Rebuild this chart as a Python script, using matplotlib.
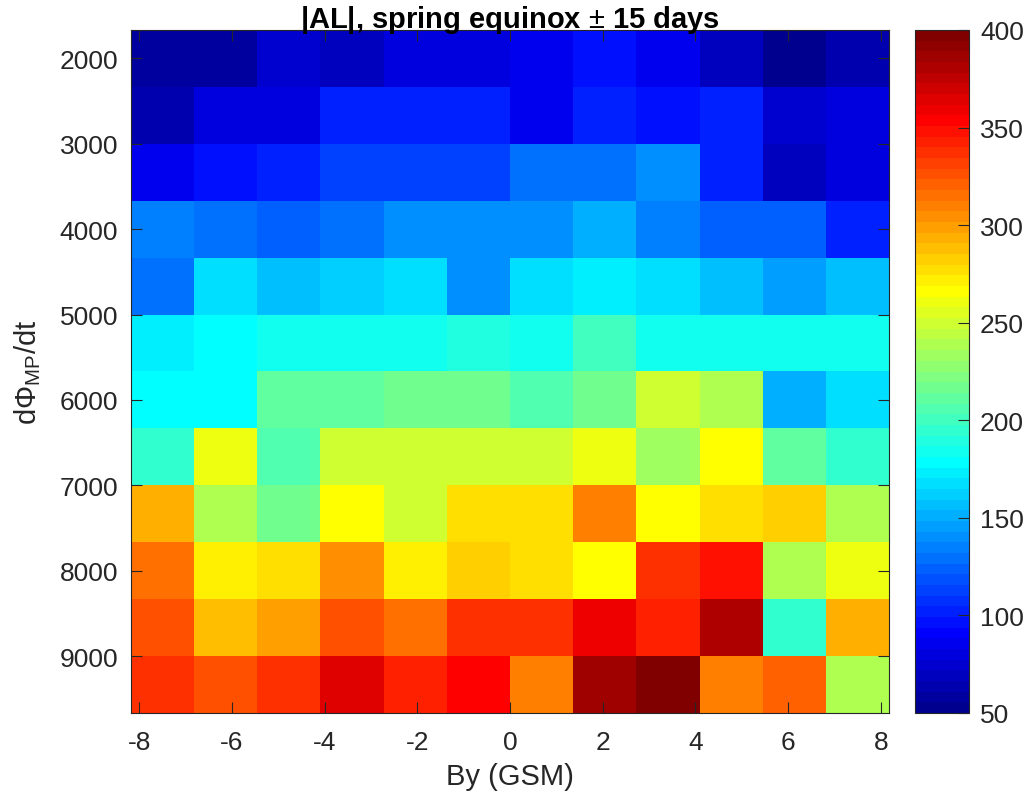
import numpy as np
import matplotlib
matplotlib.use("Agg")
import matplotlib.pyplot as plt
from matplotlib.colors import ListedColormap

plt.rcParams['font.family'] = ['Liberation Sans', 'DejaVu Sans']
plt.rcParams['mathtext.fontset'] = 'custom'
plt.rcParams['mathtext.rm'] = 'Liberation Sans'
plt.rcParams['mathtext.bf'] = 'Liberation Sans:bold'
plt.rcParams['axes.unicode_minus'] = False

# bin centres
by_gsm = np.linspace(-7.5, 7.5, 12)
dphi_dt = np.linspace(2000, 9333.33, 12)

# |AL| (nT), rows = dPhi/dt bins (top to bottom), cols = By bins (left to right)
al_abs = np.array([
    [60, 60, 74, 69, 82, 82, 85, 96, 87, 69, 52, 64],
    [66, 80, 80, 102, 102, 104, 85, 100, 96, 100, 76, 82],
    [85, 96, 104, 113, 113, 113, 131, 131, 141, 104, 69, 82],
    [136, 131, 124, 128, 141, 141, 141, 151, 133, 126, 126, 104],
    [131, 168, 157, 163, 168, 141, 168, 174, 168, 157, 146, 157],
    [174, 177, 182, 182, 185, 188, 182, 199, 182, 182, 186, 186],
    [180, 180, 210, 213, 215, 215, 204, 215, 248, 237, 149, 168],
    [193, 260, 204, 248, 248, 248, 248, 260, 232, 266, 210, 193],
    [294, 237, 215, 266, 252, 277, 277, 310, 266, 277, 283, 237],
    [315, 272, 277, 304, 272, 283, 277, 266, 337, 348, 237, 260],
    [326, 288, 299, 326, 315, 337, 337, 359, 342, 381, 193, 294],
    [337, 326, 337, 364, 342, 353, 310, 386, 398, 310, 321, 237],
])

x_ticks = np.arange(-8, 9, 2)
y_ticks = np.arange(2000, 9001, 1000)
cbar_ticks = np.arange(50, 401, 50)


def matlab_jet(m=64):
    # same construction as MATLAB's jet(m)
    n = int(np.ceil(m / 4))
    u = np.concatenate([np.arange(1, n + 1) / n, np.ones(n - 1), np.arange(n, 0, -1) / n])
    g = int(np.ceil(n / 2)) - int(m % 4 == 1) + np.arange(1, len(u) + 1)
    r = g + n
    b = g - n
    g = g[g <= m]
    r = r[r <= m]
    b = b[b >= 1]
    J = np.zeros((m, 3))
    J[r - 1, 0] = u[:len(r)]
    J[g - 1, 1] = u[:len(g)]
    J[b - 1, 2] = u[-len(b):]
    return ListedColormap(J)


grey = '#262626'
fig = plt.figure(figsize=(10.26, 8.03), dpi=100)
ax = fig.add_axes([130.7 / 1026, 1 - 714 / 803, (889.3 - 130.7) / 1026, (714 - 31) / 803])
cax = fig.add_axes([915 / 1026, 1 - 714 / 803, 54 / 1026, (714 - 31) / 803])

mesh = ax.pcolormesh(by_gsm, dphi_dt, al_abs, shading='nearest',
                     cmap=matlab_jet(64), vmin=50, vmax=400)
ax.invert_yaxis()
ax.set_xticks(x_ticks)
ax.set_yticks(y_ticks)
ax.tick_params(direction='in', length=8, width=0.8, colors=grey, labelsize=19,
               top=True, right=True, pad=9)
ax.tick_params(axis='x', pad=12)
for s in ax.spines.values():
    s.set_color(grey)
    s.set_linewidth(0.8)

ax.set_title(r'|AL|, spring equinox $\pm$ 15 days', fontsize=21, fontweight='bold',
             color='black', pad=2)
ax.set_xlabel('By (GSM)', fontsize=21, color=grey, labelpad=6)
ax.set_ylabel(r'd$\Phi_{\mathrm{MP}}$/dt', fontsize=21, color=grey, labelpad=12)

cb = fig.colorbar(mesh, cax=cax, ticks=cbar_ticks)
cb.ax.tick_params(direction='in', length=8, width=0.8, colors=grey, labelsize=19, pad=8)
cb.outline.set_edgecolor(grey)
cb.outline.set_linewidth(0.8)

fig.savefig('out.png', dpi=100)
